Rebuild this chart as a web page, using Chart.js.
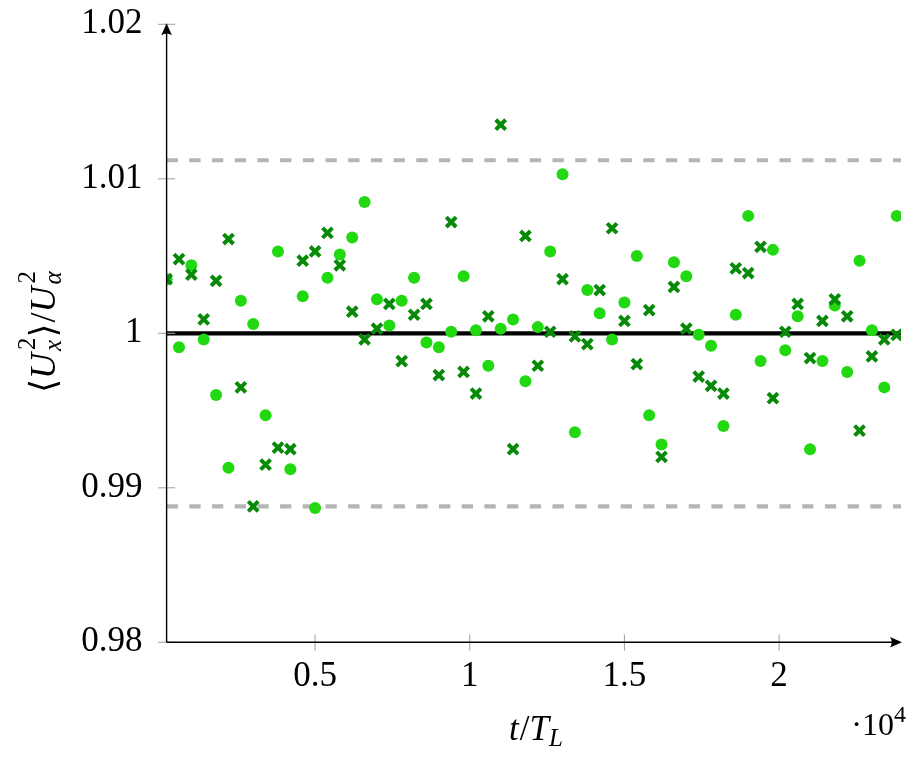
<!DOCTYPE html>
<html><head><meta charset="utf-8">
<script src="https://cdn.jsdelivr.net/npm/chart.js@4"></script>
<style>html,body{margin:0;padding:0;background:#fff}canvas{display:block}</style>
</head><body>
<canvas id="c" width="912" height="765"></canvas>
<script>
// ---- data ----
const timeValues = [200,600,1000,1400,1800,2200,2600,3000,3400,3800,
  4200,4600,5000,5400,5800,6200,6600,7000,7400,7800,
  8200,8600,9000,9400,9800,10200,10600,11000,11400,11800,
  12200,12600,13000,13400,13800,14200,14600,15000,15400,15800,
  16200,16600,17000,17400,17800,18200,18600,19000,19400,19800,
  20200,20600,21000,21400,21800,22200,22600,23000,23400,23800];
const crossValues = [1.0035,1.0048,1.0038,1.0009,1.0034,1.0061,0.9965,0.9888,0.9915,0.9926,
  0.9925,1.0047,1.0053,1.0065,1.0044,1.0014,0.9996,1.0003,1.0019,0.9982,
  1.0012,1.0019,0.9973,1.0072,0.9975,0.9961,1.0011,1.0135,0.9925,1.0063,
  0.9979,1.0001,1.0035,0.9998,0.9993,1.0028,1.0068,1.0008,0.9980,1.0015,
  0.9920,1.0030,1.0003,0.9972,0.9966,0.9961,1.0042,1.0039,1.0056,0.9958,
  1.0001,1.0019,0.9984,1.0008,1.0022,1.0011,0.9937,0.9985,0.9996,0.9999];
const dotValues = [1.0035,0.9991,1.0044,0.9996,0.9960,0.9913,1.0021,1.0006,0.9947,1.0053,
  0.9912,1.0024,0.9887,1.0036,1.0051,1.0062,1.0085,1.0022,1.0005,1.0021,
  1.0036,0.9994,0.9991,1.0001,1.0037,1.0002,0.9979,1.0003,1.0009,0.9969,
  1.0004,1.0053,1.0103,0.9936,1.0028,1.0013,0.9996,1.0020,1.0050,0.9947,
  0.9928,1.0046,1.0037,0.9999,0.9992,0.9940,1.0012,1.0076,0.9982,1.0054,
  0.9989,1.0011,0.9925,0.9982,1.0018,0.9975,1.0047,1.0002,0.9965,1.0076];
const referenceLevel = 1;
const upperBound = 1.0112;
const lowerBound = 0.9888;
const xRange = [200, 23940];
const yRange = [0.98, 1.02];
const xTickValues = [5000, 10000, 15000, 20000];
const xTickLabels = ['0.5', '1', '1.5', '2'];
const yTickValues = [0.98, 0.99, 1, 1.01, 1.02];
const yTickLabels = ['0.98', '0.99', '1', '1.01', '1.02'];

// ---- styles ----
const SERIF = '"Liberation Serif", "DejaVu Serif", serif';
const DOT_COLOR = '#22d811';
const CROSS_COLOR = '#078a07';
const DASH_COLOR = '#b5b5b5';

function hline(y) { return [{x: xRange[0], y: y}, {x: xRange[1], y: y}]; }

function fontStr(size, italic) { return (italic ? 'italic ' : '') + size + 'px ' + SERIF; }

// draw a sequence of text runs; items: {t, size, it, dy, dx} or {stack:[items]}
function measureItem(ctx, it) {
  if (it.stack) return Math.max(...it.stack.map(s => measureItem(ctx, s)));
  ctx.font = fontStr(it.size, it.it);
  return ctx.measureText(it.t).width + (it.dx || 0) + (it.pre || 0);
}
function drawRuns(ctx, items, x, y, align) {
  const total = items.reduce((s, it) => s + measureItem(ctx, it), 0);
  let cx = align === 'center' ? x - total / 2 : (align === 'right' ? x - total : x);
  ctx.textBaseline = 'alphabetic';
  ctx.textAlign = 'left';
  ctx.fillStyle = '#000';
  for (const it of items) {
    const w = measureItem(ctx, it);
    const list = it.stack ? it.stack : [it];
    for (const s of list) {
      ctx.font = fontStr(s.size, s.it);
      ctx.fillText(s.t, cx + (s.pre || 0), y + (s.dy || 0));
    }
    cx += w;
  }
}

const decorPlugin = {
  id: 'decor',
  afterDatasetsDraw(chart) {
    const ctx = chart.ctx;
    const xs = chart.scales.x, ys = chart.scales.y;
    const L = chart.chartArea.left, B = chart.chartArea.bottom;
    const R = xs.getPixelForValue(xRange[1]);
    const T = ys.getPixelForValue(yRange[1]);
    ctx.save();
    // tick marks
    ctx.strokeStyle = '#a6a6a6';
    ctx.lineWidth = 1.1;
    for (const v of yTickValues) {
      const p = ys.getPixelForValue(v);
      ctx.beginPath(); ctx.moveTo(L - 8.5, p); ctx.lineTo(L + 8.5, p); ctx.stroke();
    }
    for (const v of xTickValues) {
      const p = xs.getPixelForValue(v);
      ctx.beginPath(); ctx.moveTo(p, B - 8); ctx.lineTo(p, B + 8.5); ctx.stroke();
    }
    // axis lines
    ctx.strokeStyle = '#000';
    ctx.fillStyle = '#000';
    ctx.lineWidth = 1.4;
    ctx.beginPath(); ctx.moveTo(L, B); ctx.lineTo(L, T + 6); ctx.stroke();
    ctx.beginPath(); ctx.moveTo(L, B); ctx.lineTo(R - 6, B); ctx.stroke();
    // arrow heads
    const tipY = T - 1;
    ctx.beginPath();
    ctx.moveTo(L, tipY);
    ctx.lineTo(L + 5.3, tipY + 12);
    ctx.quadraticCurveTo(L, tipY + 8.5, L - 5.3, tipY + 12);
    ctx.closePath(); ctx.fill();
    const tipX = R + 1;
    ctx.beginPath();
    ctx.moveTo(tipX, B);
    ctx.lineTo(tipX - 12, B - 5.3);
    ctx.quadraticCurveTo(tipX - 8.5, B, tipX - 12, B + 5.3);
    ctx.closePath(); ctx.fill();
    ctx.restore();
  },
  afterDraw(chart) {
    const ctx = chart.ctx;
    ctx.save();
    // x-axis title t/T_L
    drawRuns(ctx, [
      {t: 't', size: 35, it: true, dx: 1},
      {t: '/', size: 35, it: false},
      {t: 'T', size: 35, it: true},
      {t: 'L', size: 25, it: true, dy: 6}
    ], 536, 740, 'center');
    // scale factor ·10^4
    drawRuns(ctx, [
      {t: '\u00B710', size: 32, it: false},
      {t: '4', size: 24, it: false, dy: -13, dx: 1}
    ], 907, 735, 'right');
    // y-axis title <U_x^2>/U_alpha^2 (rotated)
    ctx.translate(55, 332);
    ctx.rotate(-Math.PI / 2);
    drawRuns(ctx, [
      {t: '\u27E8', size: 36, it: false},
      {t: 'U', size: 36, it: true, dx: 2},
      {stack: [{t: '2', size: 25, it: false, dy: -20, pre: 1}, {t: 'x', size: 25, it: true, dy: 6}]},
      {t: '\u27E9', size: 36, it: false, dx: 1},
      {t: '/', size: 36, it: false},
      {t: 'U', size: 36, it: true, dx: 2},
      {stack: [{t: '2', size: 25, it: false, dy: -20, pre: 1}, {t: '\u03B1', size: 25, it: true, dy: 6}]}
    ], 0, 0, 'center');
    ctx.restore();
  }
};

Chart.defaults.font.family = SERIF;
Chart.defaults.color = '#000';

new Chart(document.getElementById('c'), {
  type: 'scatter',
  data: {
    datasets: [
      {
        label: 'crosses',
        data: timeValues.map((t, i) => ({x: t, y: crossValues[i]})),
        pointStyle: 'crossRot', pointRadius: 7, borderWidth: 4,
        borderColor: CROSS_COLOR, backgroundColor: CROSS_COLOR, order: 1
      },
      {
        label: 'dots',
        data: timeValues.map((t, i) => ({x: t, y: dotValues[i]})),
        pointStyle: 'circle', pointRadius: 6, borderWidth: 0,
        backgroundColor: DOT_COLOR, borderColor: DOT_COLOR, order: 2
      },
      {
        label: 'reference',
        data: hline(referenceLevel), showLine: true, pointRadius: 0,
        borderColor: '#000', borderWidth: 4.3, order: 3
      },
      {
        label: 'upper',
        data: hline(upperBound), showLine: true, pointRadius: 0,
        borderColor: DASH_COLOR, borderWidth: 4.2, borderDash: [11.3, 11.4], order: 4
      },
      {
        label: 'lower',
        data: hline(lowerBound), showLine: true, pointRadius: 0,
        borderColor: DASH_COLOR, borderWidth: 4.2, borderDash: [11.3, 11.4], order: 4
      }
    ]
  },
  options: {
    responsive: false,
    animation: false,
    events: [],
    devicePixelRatio: 1,
    layout: {padding: {top: 24.3, right: 2, left: 0, bottom: 0}},
    plugins: {legend: {display: false}, tooltip: {enabled: false}},
    scales: {
      x: {
        type: 'linear', min: xRange[0], max: xRange[1],
        grid: {display: false, drawTicks: false},
        border: {display: false},
        afterBuildTicks: s => { s.ticks = xTickValues.map(v => ({value: v})); },
        afterFit: s => { s.height = 122.7; s.paddingLeft = 0; s.paddingRight = 0; },
        ticks: {
          padding: 14, maxRotation: 0, autoSkip: false,
          font: {size: 35, family: SERIF},
          callback: (v, i) => xTickLabels[i]
        }
      },
      y: {
        type: 'linear', min: yRange[0], max: yRange[1],
        grid: {display: false, drawTicks: false},
        border: {display: false},
        afterBuildTicks: s => { s.ticks = yTickValues.map(v => ({value: v})); },
        afterFit: s => { s.width = 166.6; s.paddingTop = 0; s.paddingBottom = 0; },
        ticks: {
          padding: 24, autoSkip: false,
          font: {size: 35, family: SERIF},
          callback: (v, i) => yTickLabels[i]
        }
      }
    }
  },
  plugins: [decorPlugin]
});
</script>
</body></html>
